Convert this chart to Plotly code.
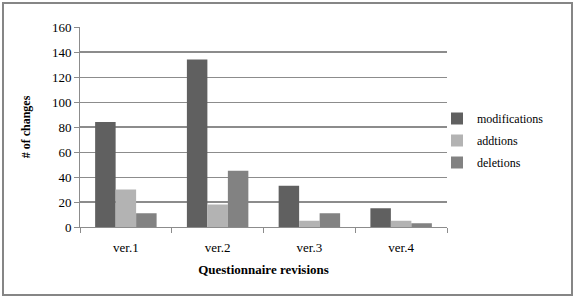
import plotly.graph_objects as go

categories = ["ver.1", "ver.2", "ver.3", "ver.4"]
modifications = [84, 134, 33, 15]
additions = [30, 18, 5, 5]
deletions = [11, 45, 11, 3]
series_names = ["modifications", "addtions", "deletions"]
y_ticks = [0, 20, 40, 60, 80, 100, 120, 140, 160]

W, H = 578, 302
L, R, T, B = 80, 131, 27, 75
pw, ph = W - L - R, H - T - B

font = "Liberation Serif, Times New Roman, serif"
colors = ["#606060", "#b3b3b3", "#828282"]

fig = go.Figure()
for name, vals, c in zip(series_names, [modifications, additions, deletions], colors):
    fig.add_trace(go.Bar(x=categories, y=vals, name=name, legendgroup=name,
                         marker=dict(color=c, line=dict(width=0))))

def px_x(x):
    return (x - L) / pw

def px_y(y):
    return (H - B - y) / ph

shapes = [
    dict(type="rect", xref="paper", yref="paper",
         x0=px_x(3), x1=px_x(572), y0=px_y(295), y1=px_y(3),
         line=dict(color="#868686", width=2), layer="below"),
]
for v in [20, 80, 140]:
    shapes.append(dict(type="line", xref="paper", yref="y", x0=0, x1=1, y0=v, y1=v,
                       line=dict(color="#8c8c8c", width=2), layer="below"))

fig.update_layout(
    width=W, height=H,
    margin=dict(l=L, r=R, t=T, b=B),
    paper_bgcolor="white", plot_bgcolor="white",
    barmode="group", bargap=0.33, bargroupgap=0,
    font=dict(family=font, size=12, color="black"),
    showlegend=True,
    legend=dict(x=px_x(437), y=px_y(104), xanchor="left", yanchor="top",
                font=dict(family=font, size=12, color="black"), itemwidth=30,
                tracegroupgap=3, bgcolor="rgba(0,0,0,0)"),
    xaxis=dict(
        showline=True, linecolor="#8c8c8c", linewidth=1,
        ticks="outside", ticklen=5, tickcolor="#8c8c8c", tickson="boundaries",
        tickfont=dict(family=font, size=13, color="black"), ticklabelstandoff=8,
        title=dict(text="<b>Questionnaire revisions</b>",
                   font=dict(family=font, size=13, color="black"), standoff=11),
    ),
    yaxis=dict(
        range=[0, 160], tickvals=y_ticks,
        showgrid=True, gridcolor="#8c8c8c", gridwidth=1,
        showline=True, linecolor="#8c8c8c", linewidth=1,
        ticks="outside", ticklen=5, tickcolor="#8c8c8c",
        tickfont=dict(family=font, size=13, color="black"),
        zeroline=False,
        title=dict(text="<b># of changes</b>", font=dict(family=font, size=12, color="black"), standoff=18),
    ),
    shapes=shapes,
)

fig.write_html("out.html", config={"displayModeBar": False},
               post_script="document.body.style.margin='0';document.body.style.overflow='hidden';")
